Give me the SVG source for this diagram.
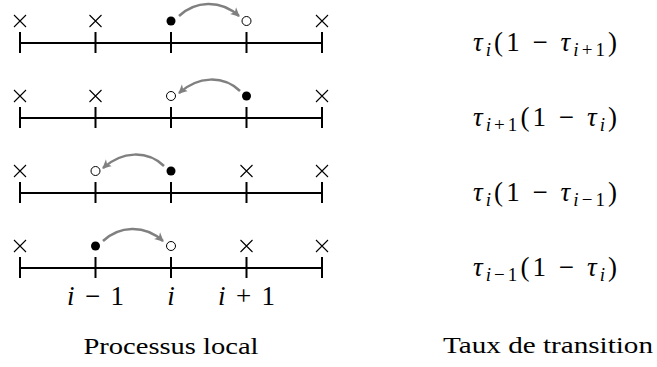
<svg xmlns="http://www.w3.org/2000/svg" width="657" height="367" viewBox="0 0 657 367">
<style>
.axis{stroke:#000;stroke-width:2;fill:none}
.tick{stroke:#000;stroke-width:2}
.cross{stroke:#000;stroke-width:1.1;fill:none}
.full{fill:#000}
.empty{fill:#fff;stroke:#000;stroke-width:1}
.jump{stroke:#808080;stroke-width:2.5;fill:none;marker-end:url(#ah)}
.math{font-family:"Liberation Serif","DejaVu Serif",serif;font-size:27px;fill:#000}
.it{font-style:italic}
.txt{font-family:"Liberation Serif","DejaVu Serif",serif;font-size:24px;fill:#000}
</style>
<defs>
<marker id="ah" markerWidth="12" markerHeight="12" refX="8" refY="6" orient="auto" markerUnits="userSpaceOnUse">
<path d="M0,1.5 L9,6 L0,10.5 L2.5,6 Z" fill="#808080"/>
</marker>
<g id="line">
<path class="axis" d="M20,0 H322"/>
<path class="tick" d="M20,-11 V10 M95.5,-11 V10 M171,-11 V10 M246.5,-11 V10 M322,-11 V10"/>
</g>
<path id="x" class="cross" d="M-6,-6 L6,6 M-6,6 L6,-6"/>
</defs>

<g id="row1">
<use href="#line" transform="translate(0,43)"/>
<use href="#x" transform="translate(20,21)"/>
<use href="#x" transform="translate(95.5,21)"/>
<circle class="full" cx="171" cy="21" r="4.5"/>
<circle class="empty" cx="246.5" cy="21" r="4.5"/>
<use href="#x" transform="translate(322,21)"/>
</g>
<g id="row2">
<use href="#line" transform="translate(0,118)"/>
<use href="#x" transform="translate(20,96)"/>
<use href="#x" transform="translate(95.5,96)"/>
<circle class="empty" cx="171" cy="96" r="4.5"/>
<circle class="full" cx="246.5" cy="96" r="4.5"/>
<use href="#x" transform="translate(322,96)"/>
</g>
<g id="row3">
<use href="#line" transform="translate(0,193)"/>
<use href="#x" transform="translate(20,171)"/>
<circle class="empty" cx="95.5" cy="171" r="4.5"/>
<circle class="full" cx="171" cy="171" r="4.5"/>
<use href="#x" transform="translate(246.5,171)"/>
<use href="#x" transform="translate(322,171)"/>
</g>
<g id="row4">
<use href="#line" transform="translate(0,268)"/>
<use href="#x" transform="translate(20,246)"/>
<circle class="full" cx="95.5" cy="246" r="4.5"/>
<circle class="empty" cx="171" cy="246" r="4.5"/>
<use href="#x" transform="translate(246.5,246)"/>
<use href="#x" transform="translate(322,246)"/>
</g>

<g id="connectors">
<path class="jump" d="M179,16 C195,1 220,-1 239,16"/>
<path class="jump" d="M240,91 C223,75 198,76 179,93"/>
<path class="jump" d="M164,166 C147,150 122,151 103,168"/>
<path class="jump" d="M103,241 C119,226 144,224 163,241"/>
</g>

<g id="axis-labels" class="math">
<text x="95.5" y="305" text-anchor="middle" textLength="57" lengthAdjust="spacing"><tspan class="it">i</tspan> − 1</text>
<text x="171" y="305" text-anchor="middle" class="it">i</text>
<text x="246.5" y="305" text-anchor="middle" textLength="57" lengthAdjust="spacing"><tspan class="it">i</tspan> + 1</text>
</g>

<g id="rates" class="math">
<text x="545" y="51" text-anchor="middle" textLength="144" lengthAdjust="spacing"><tspan class="it">τ</tspan><tspan class="it" font-size="19" dy="5">i</tspan><tspan dy="-5">(1 − </tspan><tspan class="it">τ</tspan><tspan font-size="19" dy="5"><tspan class="it">i</tspan>+1</tspan><tspan dy="-5">)</tspan></text>
<text x="545" y="126" text-anchor="middle" textLength="144" lengthAdjust="spacing"><tspan class="it">τ</tspan><tspan font-size="19" dy="5"><tspan class="it">i</tspan>+1</tspan><tspan dy="-5">(1 − </tspan><tspan class="it">τ</tspan><tspan class="it" font-size="19" dy="5">i</tspan><tspan dy="-5">)</tspan></text>
<text x="545" y="201" text-anchor="middle" textLength="144" lengthAdjust="spacing"><tspan class="it">τ</tspan><tspan class="it" font-size="19" dy="5">i</tspan><tspan dy="-5">(1 − </tspan><tspan class="it">τ</tspan><tspan font-size="19" dy="5"><tspan class="it">i</tspan>−1</tspan><tspan dy="-5">)</tspan></text>
<text x="545" y="276" text-anchor="middle" textLength="144" lengthAdjust="spacing"><tspan class="it">τ</tspan><tspan font-size="19" dy="5"><tspan class="it">i</tspan>−1</tspan><tspan dy="-5">(1 − </tspan><tspan class="it">τ</tspan><tspan class="it" font-size="19" dy="5">i</tspan><tspan dy="-5">)</tspan></text>
</g>

<g id="titles" class="txt">
<text x="171" y="354" text-anchor="middle" textLength="175" lengthAdjust="spacingAndGlyphs">Processus local</text>
<text x="548" y="353" text-anchor="middle" textLength="210" lengthAdjust="spacingAndGlyphs">Taux de transition</text>
</g>
</svg>
